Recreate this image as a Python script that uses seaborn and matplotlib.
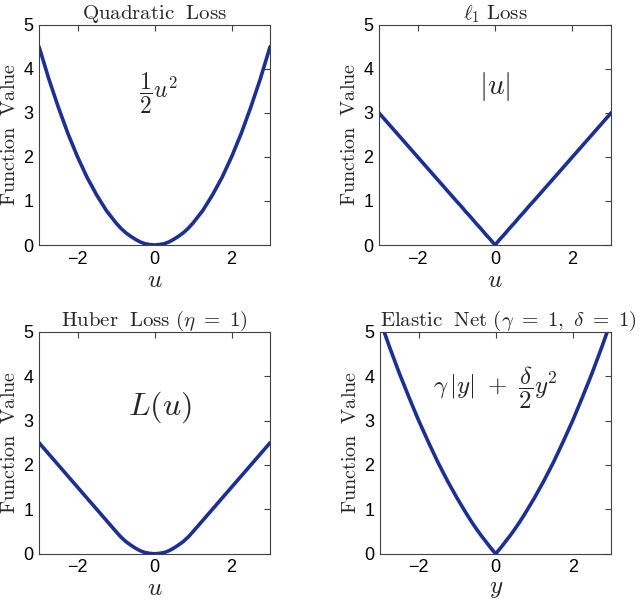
import pandas as pd
import matplotlib
matplotlib.use("Agg")
import matplotlib.pyplot as plt
import seaborn as sns

# valores (paso más fino cerca del origen)
u_vals = [-3.0, -2.75, -2.5, -2.25, -2.0, -1.75, -1.5, -1.25, -1.0, -0.875, -0.75, -0.625,
          -0.5, -0.375, -0.25, -0.125, 0.0, 0.125, 0.25, 0.375, 0.5, 0.625, 0.75, 0.875,
          1.0, 1.25, 1.5, 1.75, 2.0, 2.25, 2.5, 2.75, 3.0]
quadratic_vals = [4.5, 3.78, 3.13, 2.53, 2.0, 1.53, 1.13, 0.78, 0.5, 0.38, 0.28, 0.2,
                  0.13, 0.07, 0.03, 0.01, 0.0, 0.01, 0.03, 0.07, 0.13, 0.2, 0.28, 0.38,
                  0.5, 0.78, 1.13, 1.53, 2.0, 2.53, 3.13, 3.78, 4.5]
l1_vals = [3.0, 2.75, 2.5, 2.25, 2.0, 1.75, 1.5, 1.25, 1.0, 0.88, 0.75, 0.63,
           0.5, 0.38, 0.25, 0.13, 0.0, 0.13, 0.25, 0.38, 0.5, 0.63, 0.75, 0.88,
           1.0, 1.25, 1.5, 1.75, 2.0, 2.25, 2.5, 2.75, 3.0]
huber_vals = [2.5, 2.25, 2.0, 1.75, 1.5, 1.25, 1.0, 0.75, 0.5, 0.38, 0.28, 0.2,
              0.13, 0.07, 0.03, 0.01, 0.0, 0.01, 0.03, 0.07, 0.13, 0.2, 0.28, 0.38,
              0.5, 0.75, 1.0, 1.25, 1.5, 1.75, 2.0, 2.25, 2.5]
elastic_vals = [5.25, 4.64, 4.06, 3.52, 3.0, 2.52, 2.06, 1.64, 1.25, 1.07, 0.89, 0.72,
                0.56, 0.41, 0.27, 0.13, 0.0, 0.13, 0.27, 0.41, 0.56, 0.72, 0.89, 1.07,
                1.25, 1.64, 2.06, 2.52, 3.0, 3.52, 4.06, 4.64, 5.25]

titles = [r'$\mathrm{Quadratic\ \ Loss}$', r'$\ell_1\ \mathrm{Loss}$',
          r'$\mathrm{Huber\ \ Loss}\ (\eta\ =\ 1)$',
          r'$\mathrm{Elastic\ \ Net}\ (\gamma\ =\ 1,\ \delta\ =\ 1)$']
title_loc = ['center', 'center', 'center', 'left']
formulas = [r'$\dfrac{1}{2}u^2$', r'$|u|$', r'$L(u)$',
            r'$\gamma\,|y|\ +\ \dfrac{\delta}{2}y^2$']
formula_pos = [(0.1, 3.45), (0.0, 3.6), (0.15, 3.3), (0.0, 3.75)]
formula_size = [17, 21, 23, 18]
xlabels = ['u', 'u', 'u', 'y']
series = [quadratic_vals, l1_vals, huber_vals, elastic_vals]

LINE_COLOR = '#1c2f92'

sns.set_theme(style="white")
plt.rcParams.update({
    "font.family": ["Liberation Sans", "DejaVu Sans"],
    "mathtext.fontset": "cm",
    "axes.edgecolor": "#404040",
    "axes.linewidth": 0.8,
    "xtick.direction": "in",
    "ytick.direction": "in",
    "xtick.top": True,
    "ytick.right": True,
    "xtick.major.size": 4,
    "ytick.major.size": 4,
    "xtick.major.width": 0.8,
    "ytick.major.width": 0.8,
    "xtick.color": "#404040",
    "ytick.color": "#404040",
    "xtick.labelcolor": "black",
    "ytick.labelcolor": "black",
    "xtick.labelsize": 13,
    "ytick.labelsize": 13,
})

fig = plt.figure(figsize=(6.4, 6.02), dpi=100)
positions = [
    [0.061, 0.593, 0.361, 0.366],
    [0.592, 0.593, 0.363, 0.366],
    [0.061, 0.080, 0.361, 0.369],
    [0.594, 0.080, 0.361, 0.369],
]

for i in range(4):
    ax = fig.add_axes(positions[i])
    df = pd.DataFrame({'x': u_vals, 'f': series[i]})
    sns.lineplot(data=df, x='x', y='f', ax=ax, color=LINE_COLOR, linewidth=2.6)
    ax.set_xlim(-3, 3)
    ax.set_ylim(0, 5)
    ax.set_xticks([-2, 0, 2])
    ax.set_yticks([0, 1, 2, 3, 4, 5])
    ax.set_xticklabels(['\u22122', '0', '2'])
    ax.set_title(titles[i], fontsize=15, pad=4, loc=title_loc[i])
    ax.set_xlabel('$' + xlabels[i] + '$', fontsize=18, labelpad=0)
    ax.set_ylabel(r'$\mathrm{Function\ \ Value}$', fontsize=14.5, labelpad=3)
    ax.tick_params(axis='both', pad=4)
    fx, fy = formula_pos[i]
    ax.text(fx, fy, formulas[i], fontsize=formula_size[i], ha='center', va='center')

fig.savefig('out.png', dpi=100)
